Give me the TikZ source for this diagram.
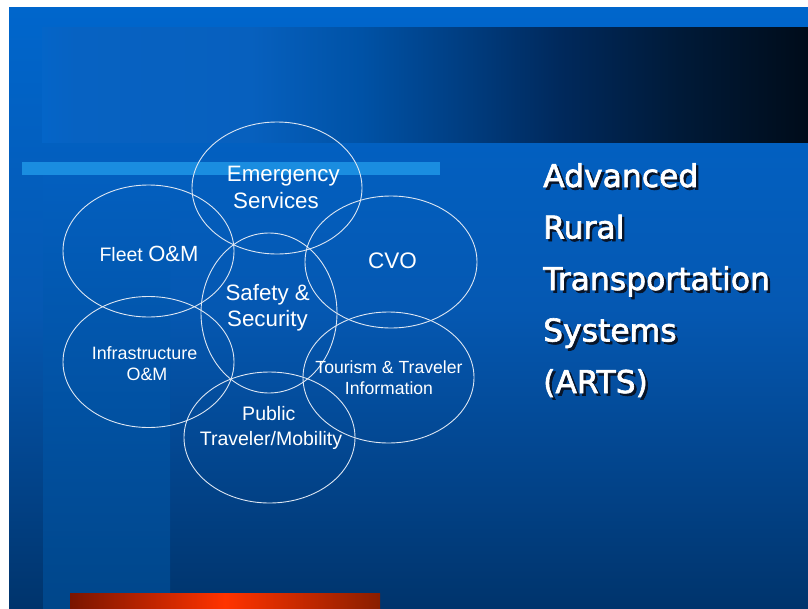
\documentclass[tikz,border=0pt]{standalone}
\usepackage{fontspec}
\setmainfont{Liberation Sans}
\newfontfamily\titlefont{DejaVu Sans}[FakeBold=2]
\usetikzlibrary{shapes.geometric}
\definecolor{bgtop}{HTML}{0066CC}
\definecolor{bgmid}{HTML}{0558B2}
\definecolor{bgbot}{HTML}{00346C}
\definecolor{striptop}{HTML}{035FBF}
\definecolor{stripbot}{HTML}{00468A}
\definecolor{cyanbar}{HTML}{1A8DE0}
\definecolor{ellc}{HTML}{DDE6F2}
\definecolor{shadowc}{HTML}{081428}
\definecolor{orA}{HTML}{7A1500}
\definecolor{orB}{HTML}{FF3300}
\definecolor{orC}{HTML}{8A1E00}
\definecolor{bA}{HTML}{0465C8}
\definecolor{bB}{HTML}{0762C2}
\definecolor{bC}{HTML}{0760BE}
\definecolor{bD}{HTML}{0052A6}
\definecolor{bE}{HTML}{003E82}
\definecolor{bF}{HTML}{00295C}
\definecolor{bG}{HTML}{001A38}
\definecolor{bH}{HTML}{000C1A}
\pgfdeclarehorizontalshading{bandshade}{100bp}{color(0bp)=(bA); color(25bp)=(bA); color(27.2bp)=(bB); color(38.6bp)=(bC); color(45.8bp)=(bD); color(52.3bp)=(bE); color(58.8bp)=(bF); color(66.6bp)=(bG); color(75bp)=(bH); color(100bp)=(bH)}
\newcommand{\shadowtext}[1]{\makebox[0pt][l]{\hspace{2.5pt}\raisebox{-2.5pt}{\textcolor{shadowc}{#1}}}#1}
\tikzset{
  ell/.style={draw=ellc, line width=0.9pt, ellipse, inner sep=0pt},
  lab/.style={text=white, inner sep=0pt, anchor=base},
  ttl/.style={text=white, inner sep=0pt, anchor=base west, font=\titlefont\fontsize{31.4}{36}\selectfont}
}
\begin{document}
\begin{tikzpicture}[x=1pt,y=-1pt]
\useasboundingbox (0,0) rectangle (808,608);
\fill[white] (0,0) rectangle (808,608);
% slide background
\shade[top color=bgtop, bottom color=bgbot, middle color=bgmid] (9,7) rectangle (808,608);
% dark band
\shade[shading=bandshade] (42,27) rectangle (808,142);
% left strip
\shade[top color=striptop, bottom color=stripbot] (43,175) rectangle (170,608);
% cyan bar
\fill[cyanbar] (22,162) rectangle (440,175);
% orange bar
\shade[left color=orA, right color=orC, middle color=orB] (70,593) rectangle (380,608);

% ellipses
\node[ell, minimum width=170pt, minimum height=132pt] (emer) at (277,188) {};
\node[ell, minimum width=171pt, minimum height=132pt] (fleet) at (148.5,251) {};
\node[ell, minimum width=172pt, minimum height=132pt] (cvo) at (391,262) {};
\node[ell, minimum width=136pt, minimum height=160pt] (safety) at (269,313) {};
\node[ell, minimum width=171pt, minimum height=131pt] (infra) at (148.5,362) {};
\node[ell, minimum width=171pt, minimum height=131pt] (tour) at (388.5,377.5) {};
\node[ell, minimum width=171pt, minimum height=131pt] (pub) at (269.5,437.5) {};

% labels
\node[lab, font=\fontsize{22.3}{26}\selectfont] (emer1) at (283.3,181) {Emergency};
\node[lab, font=\fontsize{22.3}{26}\selectfont] (emer2) at (276,208) {Services};
\node[lab] (fleet1) at (149,261.5) {\fontsize{19.5}{23}\selectfont Fleet \fontsize{22}{26}\selectfont O\&M};
\node[lab, font=\fontsize{22.5}{26}\selectfont] (cvo1) at (392.5,268) {CVO};
\node[lab, font=\fontsize{22.3}{26}\selectfont] (saf1) at (267.7,300) {Safety \&};
\node[lab, font=\fontsize{22.3}{26}\selectfont] (saf2) at (267.5,326.7) {Security};
\node[lab, font=\fontsize{17.9}{21}\selectfont] (inf1) at (144.5,359.3) {Infrastructure};
\node[lab, font=\fontsize{17.9}{21}\selectfont] (inf2) at (147,380) {O\&M};
\node[lab, font=\fontsize{17.6}{21}\selectfont] (tou1) at (389,373.3) {Tourism \& Traveler};
\node[lab, font=\fontsize{17.6}{21}\selectfont] (tou2) at (389,394) {Information};
\node[lab, font=\fontsize{19.5}{23}\selectfont] (pub1) at (268.8,420) {Public};
\node[lab, font=\fontsize{19.5}{23}\selectfont] (pub2) at (271,445) {Traveler/Mobility};

% title with shadow
\node[ttl] (t1) at (543,187) {\shadowtext{Advanced}};
\node[ttl] (t2) at (543,238.5) {\shadowtext{Rural}};
\node[ttl] (t3) at (543,290) {\shadowtext{Transportation}};
\node[ttl] (t4) at (543,341.5) {\shadowtext{Systems}};
\node[ttl] (t5) at (543,393) {\shadowtext{(ARTS)}};
\end{tikzpicture}
\end{document}
